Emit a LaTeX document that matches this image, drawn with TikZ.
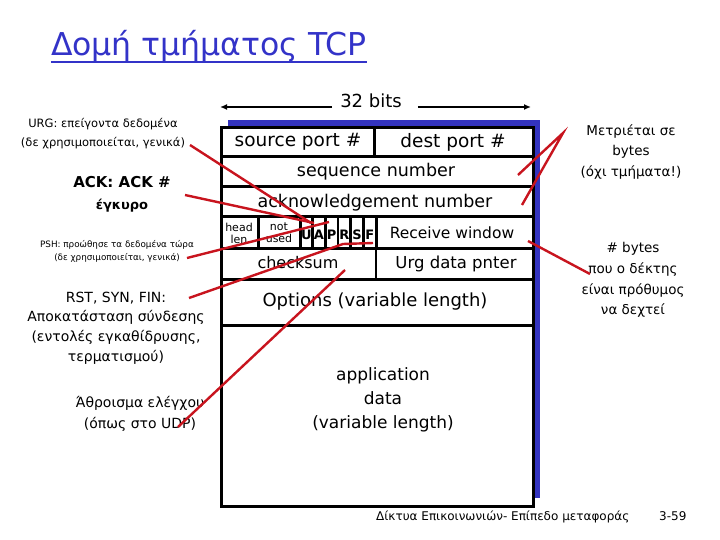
\documentclass[tikz,border=0pt]{standalone}
\usepackage{fontspec}
\setmainfont{DejaVu Sans}
\usetikzlibrary{arrows.meta}
\definecolor{shblue}{RGB}{51,51,190}
\definecolor{ttlblue}{RGB}{51,51,200}
\definecolor{conred}{RGB}{200,20,30}
\newcommand\myfs[1]{\fontsize{#1}{#1}\selectfont}
\begin{document}
\begin{tikzpicture}[x=1pt,y=-1pt,
  txt/.style={inner sep=0pt,align=center},
  fld/.style={line width=3pt,line cap=rect},
  conn/.style={conred,line width=2.4pt},
  ruler/.style={line width=1.4pt,-{Latex[length=7pt,width=6pt]}}]
\useasboundingbox (0,0) rectangle (720,540);
% title
\node[txt,anchor=base,text=ttlblue,font=\myfs{31.5}] (title) at (209,56) {Δομή τμήματος TCP};
\draw[ttlblue,line width=2pt] ([yshift=-6pt]title.base west) -- ([yshift=-6pt]title.base east);
% 32 bits
\node[txt,font=\myfs{18}] (bits) at (371,101) {32 bits};
\coordinate (bl) at (220,107);
\coordinate (br) at (531,107);
\draw[ruler] ([xshift=-8pt]bits.west |- bl) -- (bl);
\draw[ruler] ([xshift=16pt]bits.east |- br) -- (br);
% box
\fill[shblue] (228,120) rectangle (540,498);
\fill[white] (221,128) rectangle (533,506);
\draw[fld] (221,128) rectangle (533,506);
\foreach \yy in {157,187,217,248,279,325} \draw[fld] (221,\yy) -- (533,\yy);
\draw[fld] (374,128) -- (374,157);
\draw[fld] (258,217) -- (258,248);
\draw[fld] (300,217) -- (300,248);
\foreach \xx in {312.7,325.3,338,350.7,363.3} \draw[line width=2.5pt] (\xx,217) -- (\xx,248);
\draw[fld] (376,217) -- (376,248);
\draw[line width=2.2pt] (376,248) -- (376,279);
% field texts
\node[txt,font=\myfs{18.5}] (src) at (298,142) {source port \#};
\node[txt,font=\myfs{18.5}] (dst) at (453,142) {dest port \#};
\node[txt,font=\myfs{17.5}] (seq) at (376,172) {sequence number};
\node[txt,font=\myfs{17.5}] (ackn) at (375,203) {acknowledgement number};
\node[txt,font=\myfs{11}] (hlen) at (239,233) {head\\[1pt]len};
\node[txt,font=\myfs{11}] (nused) at (279,233) {not\\[1pt]used};
\foreach \f/\xx in {U/306.3,A/319,P/331.6,R/344.3,S/357,F/369.7}
  \node[txt,font=\myfs{13}\bfseries] (fl\f) at (\xx,235) {\f};
\node[txt,font=\myfs{15.5}] (rwin) at (452,233) {Receive window};
\node[txt,font=\myfs{16}] (chks) at (298,263) {checksum};
\node[txt,font=\myfs{16.5}] (urgp) at (456,264) {Urg data pnter};
\node[txt,font=\myfs{18}] (opts) at (375,302) {Options (variable length)};
\node[txt,font=\myfs{17}] (data) at (383,400) {application\\[7pt]data\\[7pt](variable length)};
% left annotations
\node[txt,font=\myfs{11.5}] (urg) at (103,134) {URG: επείγοντα δεδομένα\\[6.5pt](δε χρησιμοποιείται, γενικά)};
\node[txt,font=\myfs{15}\bfseries] (ack) at (122,194) {ACK: ACK \#\\[7pt]{\myfs{13}έγκυρο}};
\node[txt,font=\myfs{8.8}] (psh) at (117,251) {PSH: προώθησε τα δεδομένα τώρα\\[3pt](δε χρησιμοποιείται, γενικά)};
\node[txt,font=\myfs{14}] (rst) at (116,328) {RST, SYN, FIN:\\[5pt]Αποκατάσταση σύνδεσης\\[5pt](εντολές εγκαθίδρυσης,\\[5pt]τερματισμού)};
\node[txt,font=\myfs{14}] (sum) at (140,414) {Άθροισμα ελέγχου\\[6pt](όπως στο UDP)};
% right annotations
\node[txt,font=\myfs{13.5}] (meas) at (631,152) {Μετριέται σε\\[6.5pt]bytes\\[6.5pt](όχι τμήματα!)};
\node[txt,font=\myfs{13.5}] (rbyt) at (633,280) {\# bytes\\[6pt]που ο δέκτης\\[6pt]είναι πρόθυμος\\[6pt]να δεχτεί};
% footer
\node[txt,anchor=base west,font=\myfs{12}] (foot) at (376,520) {Δίκτυα Επικοινωνιών- Επίπεδο μεταφοράς};
\node[txt,anchor=base west,font=\myfs{12}] (page) at (659,520) {3-59};
% connector end points
\coordinate (urgS) at (190,145);
\coordinate (urgE) at (311,223);
\coordinate (ackS) at (185,195);
\coordinate (ackE) at (314,223);
\coordinate (pshS) at (187,258);
\coordinate (pshE) at (329,222);
\coordinate (rstS) at (189,298);
\coordinate (rstM) at (343,244);
\coordinate (rstE) at (373,243);
\coordinate (sumS) at (178,427);
\coordinate (sumE) at (345,270);
\coordinate (measA) at (563,133);
\coordinate (seqE) at (518,175);
\coordinate (ackE2) at (522,205);
\coordinate (rwS) at (590,274);
\coordinate (rwE) at (528,241);
\draw[conn] (urgS) -- (urgE);
\draw[conn] (ackS) -- (ackE);
\draw[conn] (pshS) -- (pshE);
\draw[conn] (rstS) -- (rstM) -- (rstE);
\draw[conn] (sumS) -- (sumE);
\draw[conn] (seqE) -- (measA) -- (ackE2);
\draw[conn] (rwS) -- (rwE);
\end{tikzpicture}
\end{document}
